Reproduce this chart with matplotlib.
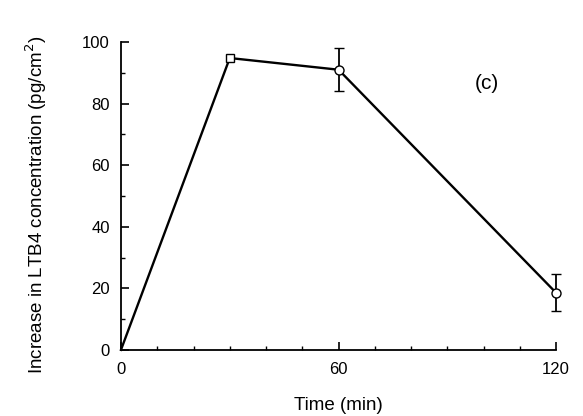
import numpy as np
import matplotlib.pyplot as plt
from matplotlib.ticker import MultipleLocator

# Datos
tiempo = [0, 30, 60, 120]
ltb4 = [0, 94.8, 91, 18.5]
error = [0, 0, 7, 6]

plt.rcParams['font.family'] = ['Liberation Sans', 'DejaVu Sans']

fig = plt.figure(figsize=(5.83, 4.16), dpi=100)
ax = fig.add_axes([0.2075, 0.159, 0.7465, 0.74])

ax.plot(tiempo, ltb4, color="black", linewidth=1.7, zorder=2, clip_on=False)
ax.plot(tiempo[1:2], ltb4[1:2], marker="s", markersize=6, mfc="white",
        mec="black", mew=1.0, linestyle="none", zorder=3, clip_on=False)
ax.errorbar(tiempo[2:], ltb4[2:], yerr=error[2:], fmt="o", markersize=6.5,
            mfc="white", mec="black", mew=1.0, ecolor="black",
            elinewidth=1.3, capsize=3.5, capthick=1.3, zorder=3,
            clip_on=False)

ax.set_xlim(0, 120)
ax.set_ylim(0, 100)
ax.spines["top"].set_visible(False)
ax.spines["right"].set_visible(False)
ax.spines["left"].set_linewidth(1.3)
ax.spines["bottom"].set_linewidth(1.3)

ax.set_xticks([0, 60, 120])
ax.set_yticks([0, 20, 40, 60, 80, 100])
ax.xaxis.set_minor_locator(MultipleLocator(10))
ax.yaxis.set_minor_locator(MultipleLocator(10))
ax.tick_params(axis="both", which="major", direction="in", length=6,
               width=1.2, labelsize=12)
ax.tick_params(axis="x", which="major", pad=9)
ax.tick_params(axis="y", which="major", pad=8)
ax.tick_params(axis="both", which="minor", direction="in", length=3, width=1)
ax.set_xticklabels(["0", "60", "120"])
ax.set_yticklabels(["0", "20", "40", "60", "80", "100"])

ax.text(101, 86.5, "(c)", fontsize=15, ha="center", va="center")

ax.set_xlabel("Time (min)", fontsize=13.5, labelpad=14)
ax.set_ylabel("Increase in LTB4 concentration (pg/cm$^2$)", fontsize=13.5)
ax.yaxis.set_label_coords(-0.165, 0.47)

plt.savefig("out.png", dpi=100)
